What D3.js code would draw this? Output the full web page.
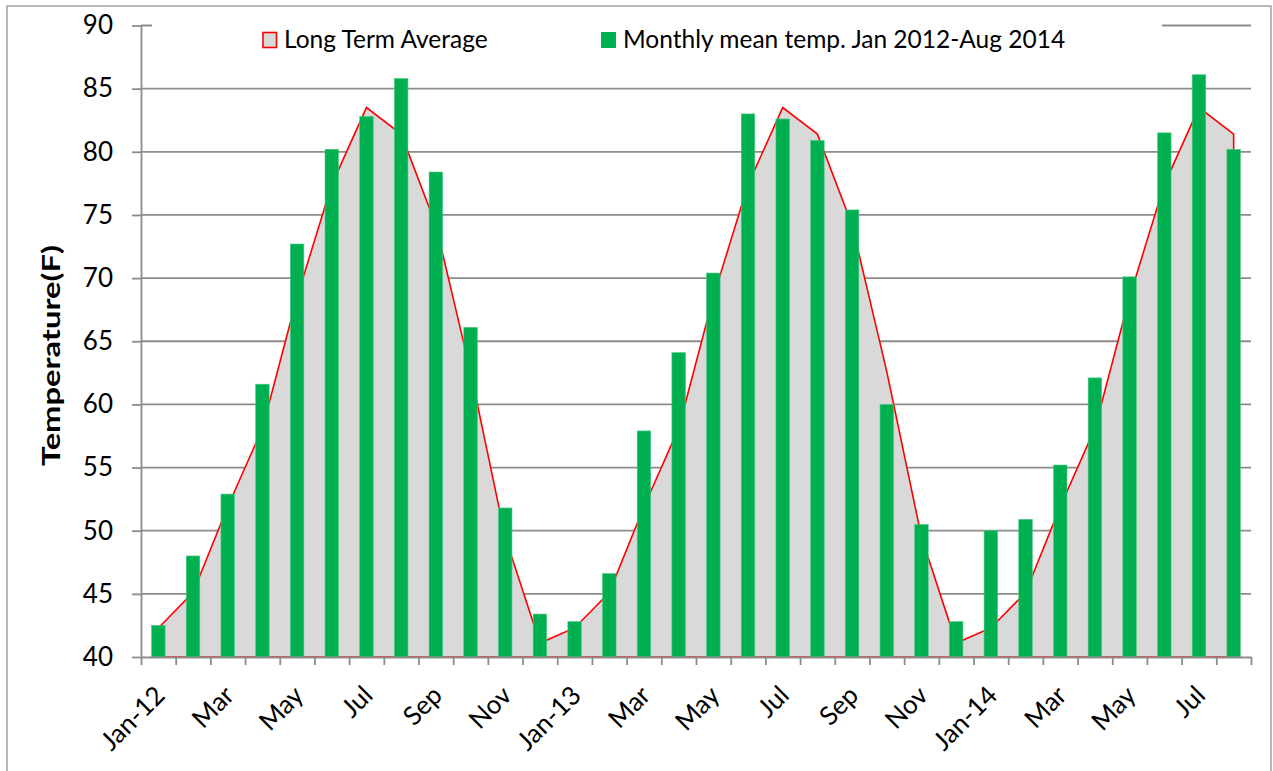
<!DOCTYPE html>
<html><head><meta charset="utf-8">
<script src="https://cdn.jsdelivr.net/npm/d3@7"></script>
<style>body{margin:0;background:#fff}svg{display:block;font-family:Lato,"Open Sans",sans-serif}</style>
</head><body><svg id="c" width="1273" height="771"></svg>
<script>
const categories = ["Jan 2012","Feb 2012","Mar 2012","Apr 2012","May 2012","Jun 2012","Jul 2012","Aug 2012","Sep 2012","Oct 2012","Nov 2012","Dec 2012",
  "Jan 2013","Feb 2013","Mar 2013","Apr 2013","May 2013","Jun 2013","Jul 2013","Aug 2013","Sep 2013","Oct 2013","Nov 2013","Dec 2013",
  "Jan 2014","Feb 2014","Mar 2014","Apr 2014","May 2014","Jun 2014","Jul 2014","Aug 2014"];
const tickLabels = ["Jan-12","","Mar","","May","","Jul","","Sep","","Nov","",
  "Jan-13","","Mar","","May","","Jul","","Sep","","Nov","",
  "Jan-14","","Mar","","May","","Jul",""];
const longTermAverage = [42.3,45.1,51.9,58.1,68.5,77.4,83.5,81.4,74.2,62.6,49.5,41.1,
  42.3,45.1,51.9,58.1,68.5,77.4,83.5,81.4,74.2,62.6,49.5,41.1,
  42.3,45.1,51.9,58.1,68.5,77.4,83.5,81.4];
const monthlyMean = [42.5,48.0,52.9,61.6,72.7,80.2,82.8,85.8,78.4,66.1,51.8,43.4,
  42.8,46.6,57.9,64.1,70.4,83.0,82.6,80.9,75.4,60.0,50.5,42.8,
  50.0,50.9,55.2,62.1,70.1,81.5,86.1,80.2];
const yTicks = [40,45,50,55,60,65,70,75,80,85,90];
const legendLabels = ["Long Term Average","Monthly mean temp. Jan 2012-Aug 2014"];
const yTitle = "Temperature(F)";

(function () {
const svg = d3.select("#c");
const pLeft = 141, pRight = 1251, pTop = 25.5, pBottom = 657;
const gridColor = "#8c8c8c";

const y = d3.scaleLinear().domain([40, 90]).range([pBottom, pTop]);
const xCat = d3.scaleBand().domain(categories).range([pLeft, pRight]).padding(0);
const xBar = d3.scaleBand().domain(categories).range([pLeft, pRight]).paddingInner(0.61).paddingOuter(0.305);
const xEdge = d3.scaleLinear().domain([0, categories.length]).range([pLeft, pRight]);
const cx = c => xCat(c) + xCat.bandwidth() / 2;

// outer chart border
svg.append("rect").attr("x", 7).attr("y", 6).attr("width", 1264).attr("height", 775)
  .attr("fill", "none").attr("stroke", "#a0a0a0").attr("stroke-width", 1.5);

// gridlines
svg.append("g").selectAll("line").data(yTicks.filter(t => t > 40)).join("line")
  .attr("x1", pLeft).attr("x2", pRight)
  .attr("y1", d => y(d)).attr("y2", d => y(d))
  .attr("stroke", gridColor).attr("stroke-width", 1.8);

// long term average area
const area = d3.area()
  .x((d, i) => cx(categories[i]))
  .y0(y(40)).y1(d => y(d));
svg.append("path").datum(longTermAverage).attr("d", area)
  .attr("fill", "#d9d9d9").attr("stroke", "#ff0000").attr("stroke-width", 1.6)
  .attr("stroke-linejoin", "miter");

// bars
svg.append("g").selectAll("rect").data(monthlyMean).join("rect")
  .attr("x", (d, i) => xBar(categories[i]))
  .attr("width", xBar.bandwidth())
  .attr("y", d => y(d))
  .attr("height", d => y(40) - y(d))
  .attr("fill", "#00b050")
  .attr("stroke", "#4cc985").attr("stroke-width", 0.6);

// y axis
const yAxis = svg.append("g").attr("transform", `translate(${pLeft},0)`)
  .call(d3.axisLeft(y).tickValues(yTicks).tickSize(9).tickSizeOuter(0).tickPadding(19).tickFormat(d3.format("d")));
yAxis.selectAll("path,line").attr("stroke", gridColor).attr("stroke-width", 1.8);
yAxis.selectAll("text").attr("font-size", 26).attr("fill", "#000").attr("font-family", "Lato");

// x axis
const xAxis = svg.append("g").attr("transform", `translate(0,${pBottom})`)
  .call(d3.axisBottom(xEdge).tickValues(d3.range(0, categories.length + 1)).tickSize(8).tickSizeOuter(0).tickFormat(""));
xAxis.selectAll("path,line").attr("stroke", gridColor).attr("stroke-width", 1.8);

svg.append("g").selectAll("text").data(categories.filter((c, i) => tickLabels[i] !== "")).join("text")
  .attr("transform", c => `translate(${cx(c) + 8},${pBottom + 40}) rotate(-45)`)
  .attr("text-anchor", "end")
  .attr("font-size", 26).attr("fill", "#000")
  .text(c => tickLabels[categories.indexOf(c)]);

// y title
svg.append("text").attr("transform", `translate(60,355.5) rotate(-90)`)
  .attr("text-anchor", "middle").attr("font-weight", "bold").attr("font-size", 25)
  .attr("textLength", 221).attr("lengthAdjust", "spacingAndGlyphs")
  .attr("fill", "#000").text(yTitle);

// legend
const lg = svg.append("g");
lg.append("rect").attr("x", 152).attr("y", 12).attr("width", 1010).attr("height", 46).attr("fill", "#fff");
lg.append("rect").attr("x", 263).attr("y", 32.5).attr("width", 13.5).attr("height", 15)
  .attr("fill", "#d9d9d9").attr("stroke", "#ff0000").attr("stroke-width", 1.6);
lg.append("text").attr("x", 284).attr("y", 47.5).attr("font-size", 24.5).attr("fill", "#000").text(legendLabels[0]);
lg.append("rect").attr("x", 601).attr("y", 32).attr("width", 15).attr("height", 16).attr("fill", "#00b050");
lg.append("text").attr("x", 623).attr("y", 47.5).attr("font-size", 24.5).attr("fill", "#000").text(legendLabels[1]);
})();
</script></body></html>
